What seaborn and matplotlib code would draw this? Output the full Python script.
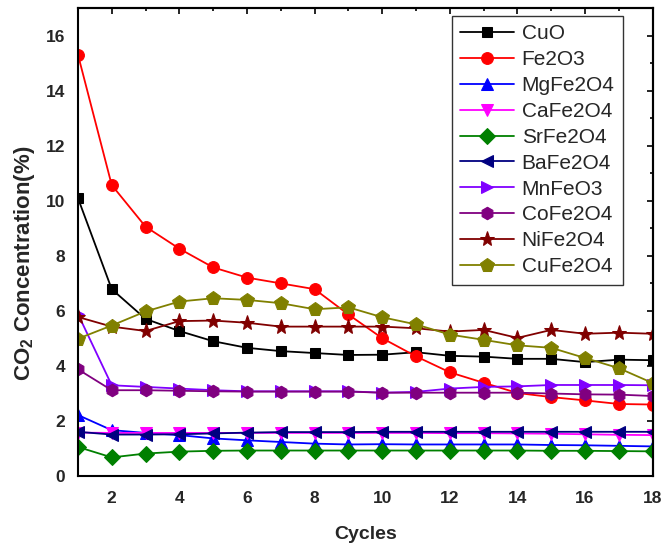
import matplotlib
matplotlib.use("Agg")
import matplotlib.pyplot as plt
import numpy as np
import pandas as pd
import seaborn as sns
from matplotlib.ticker import MultipleLocator

sns.set_theme(style="white")
plt.rcParams["font.family"] = ["Liberation Sans", "DejaVu Sans"]
plt.rcParams["mathtext.fontset"] = "custom"
plt.rcParams["mathtext.rm"] = "Liberation Sans:bold"
plt.rcParams["mathtext.bf"] = "Liberation Sans:bold"

cycles = list(range(1, 19))

cuo = [10.1, 6.79, 5.71, 5.27, 4.90, 4.66, 4.54, 4.47, 4.40, 4.41, 4.50, 4.37, 4.34, 4.26, 4.26, 4.14, 4.23, 4.21]
fe2o3 = [15.31, 10.57, 9.06, 8.26, 7.58, 7.21, 7.00, 6.79, 5.87, 5.01, 4.35, 3.77, 3.39, 3.02, 2.87, 2.75, 2.62, 2.60]
mgfe2o4 = [2.22, 1.67, 1.57, 1.49, 1.37, 1.30, 1.24, 1.18, 1.15, 1.16, 1.15, 1.15, 1.15, 1.15, 1.13, 1.12, 1.10, 1.08]
cafe2o4 = [1.58, 1.57, 1.57, 1.57, 1.57, 1.57, 1.57, 1.57, 1.57, 1.57, 1.57, 1.56, 1.56, 1.55, 1.54, 1.52, 1.50, 1.49]
srfe2o4 = [1.06, 0.68, 0.82, 0.89, 0.92, 0.93, 0.93, 0.93, 0.93, 0.93, 0.93, 0.93, 0.93, 0.93, 0.92, 0.92, 0.91, 0.90]
bafe2o4 = [1.61, 1.51, 1.51, 1.52, 1.55, 1.58, 1.60, 1.60, 1.60, 1.61, 1.61, 1.61, 1.61, 1.61, 1.61, 1.61, 1.61, 1.61]
mnfeo3 = [5.89, 3.30, 3.24, 3.18, 3.12, 3.08, 3.08, 3.08, 3.08, 3.03, 3.06, 3.18, 3.24, 3.26, 3.31, 3.31, 3.31, 3.30]
cofe2o4 = [3.88, 3.12, 3.12, 3.10, 3.08, 3.07, 3.07, 3.07, 3.07, 3.03, 3.03, 3.03, 3.03, 3.03, 3.00, 2.97, 2.96, 2.91]
nife2o4 = [5.78, 5.43, 5.27, 5.63, 5.65, 5.57, 5.43, 5.43, 5.43, 5.43, 5.37, 5.25, 5.31, 5.02, 5.31, 5.17, 5.21, 5.17]
cufe2o4 = [4.99, 5.47, 5.98, 6.34, 6.46, 6.40, 6.28, 6.06, 6.13, 5.77, 5.51, 5.14, 4.95, 4.75, 4.66, 4.29, 3.92, 3.38]

names = ["CuO", "Fe2O3", "MgFe2O4", "CaFe2O4", "SrFe2O4",
         "BaFe2O4", "MnFeO3", "CoFe2O4", "NiFe2O4", "CuFe2O4"]
series = [cuo, fe2o3, mgfe2o4, cafe2o4, srfe2o4,
          bafe2o4, mnfeo3, cofe2o4, nife2o4, cufe2o4]
colors = ["#000000", "#FF0000", "#0000FF", "#FF00FF", "#008000",
          "#000080", "#8000FF", "#800080", "#800000", "#808000"]
markers = ["s", "o", "^", "v", "D", "<", ">", "h", "*", "p"]
sizes = [7, 8.5, 8.5, 8.5, 8, 8.5, 8.5, 9, 11, 10]

df = pd.DataFrame({
    "Cycles": np.tile(cycles, len(names)),
    "Value": np.concatenate(series),
    "Material": np.repeat(names, len(cycles)),
})

fig = plt.figure(figsize=(6.66, 5.53), dpi=100)
ax = fig.add_axes([0.117, 0.139, 0.863, 0.8465])

for name, col, mk, ms in zip(names, colors, markers, sizes):
    sub = df[df["Material"] == name]
    sns.lineplot(data=sub, x="Cycles", y="Value", ax=ax, color=col,
                 marker=mk, markersize=ms, markeredgecolor=col,
                 linewidth=1.3, label=name, estimator=None)

ax.set_xlim(1, 18)
ax.set_ylim(0, 17)
for axis in (ax.xaxis, ax.yaxis):
    axis.set_major_locator(MultipleLocator(2))
    axis.set_minor_locator(MultipleLocator(1))
ax.tick_params(which="both", direction="out", width=1.5, color="black",
               top=False, right=False)
ax.tick_params(axis="x", which="major", length=5)
ax.tick_params(axis="x", which="minor", length=2.5)
ax.tick_params(axis="y", which="major", length=5.5)
ax.tick_params(axis="y", which="minor", length=3)
ax.tick_params(axis="x", pad=6)
for lab in ax.get_xticklabels() + ax.get_yticklabels():
    lab.set_fontweight("bold")
    lab.set_fontsize(12.5)

# inward ticks on the top and right frame
top = ax.secondary_xaxis("top")
right = ax.secondary_yaxis("right")
top.xaxis.set_major_locator(MultipleLocator(2))
top.xaxis.set_minor_locator(MultipleLocator(1))
right.yaxis.set_major_locator(MultipleLocator(2))
right.yaxis.set_minor_locator(MultipleLocator(1))
for sec in (top, right):
    sec.tick_params(which="both", direction="in", width=1.2, color="black",
                    labeltop=False, labelright=False, labelbottom=False, labelleft=False)
    sec.tick_params(which="major", length=4.5)
    sec.tick_params(which="minor", length=2.5)
    for sp in sec.spines.values():
        sp.set_linewidth(1.5)

for sp in ax.spines.values():
    sp.set_linewidth(1.5)
    sp.set_color("black")

ax.set_xlabel("Cycles", fontsize=14, fontweight="bold", labelpad=14)
ax.set_ylabel(r"CO$_2$ Concentration(%)", fontsize=16, fontweight="bold")
ax.yaxis.set_label_coords(-0.072, 0.455)

leg = ax.legend(loc="upper right", bbox_to_anchor=(0.948, 0.983), fontsize=15,
                frameon=True, fancybox=False, edgecolor="black",
                handlelength=2.6, labelspacing=0.33, borderpad=0.4,
                handletextpad=0.35, borderaxespad=0.0)
leg.get_frame().set_linewidth(1.0)

fig.savefig("out.png", dpi=100)
